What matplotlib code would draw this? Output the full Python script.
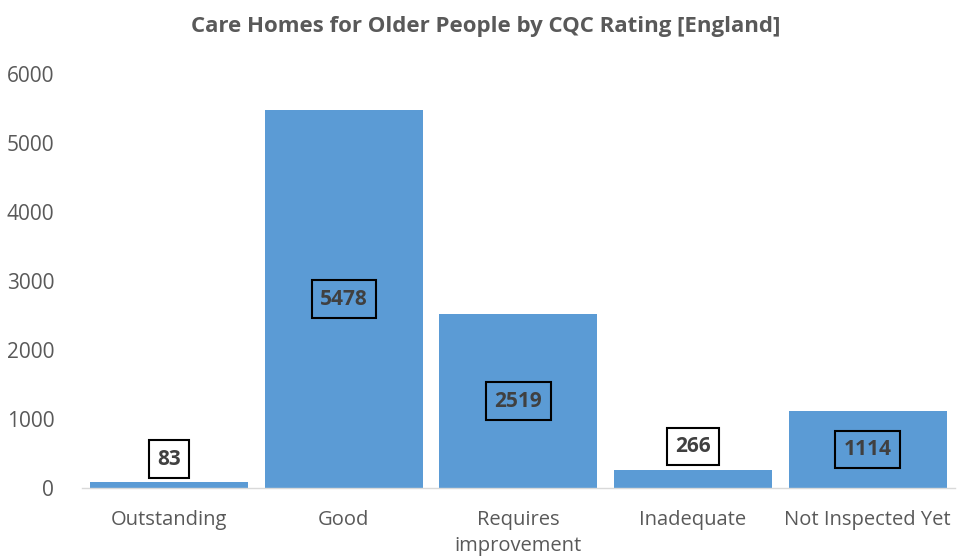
import matplotlib
matplotlib.use("Agg")
import matplotlib.pyplot as plt

categories = ["Outstanding", "Good", "Requires\nimprovement", "Inadequate", "Not Inspected Yet"]
values = [83, 5478, 2519, 266, 1114]
yticks = [0, 1000, 2000, 3000, 4000, 5000, 6000]
title = "Care Homes for Older People by CQC Rating [England]"

plt.rcParams['font.family'] = ['Open Sans', 'DejaVu Sans']

fig = plt.figure(figsize=(9.57, 5.59), dpi=100)
ax = fig.add_axes([0.0857, 0.127, 0.912, 0.7406])
x = list(range(len(categories)))
bars = ax.bar(x, values, width=0.905, color="#5B9BD5", zorder=2)
ax.set_xlim(-0.5, 4.5)
ax.set_ylim(0, 6000)
ax.set_yticks(yticks)
ax.set_yticklabels([str(t) for t in yticks], fontsize=15, color="#595959")
ax.set_xticks(x)
ax.set_xticklabels(categories, fontsize=14.5, color="#595959", linespacing=1.4)
ax.tick_params(axis='y', length=0, pad=20)
ax.tick_params(axis='x', length=0, pad=16)
for s in ["top", "right", "left"]:
    ax.spines[s].set_visible(False)
ax.spines["bottom"].set_color("#D9D9D9")
ax.spines["bottom"].set_linewidth(1)

for xi, v in zip(x, values):
    if v < 500:
        ax.annotate(str(v), (xi, v), xytext=(0, 9), textcoords="offset points",
                    ha="center", va="bottom", fontsize=15, fontweight="bold", color="#404040",
                    bbox=dict(boxstyle="square,pad=0.4", fc="white", ec="black", lw=1.5))
    else:
        ax.text(xi, v / 2, str(v), ha="center", va="center", fontsize=15,
                fontweight="bold", color="#404040",
                bbox=dict(boxstyle="square,pad=0.4", fc="none", ec="black", lw=1.5))

fig.text(0.508, 0.952, title, ha="center", va="center", fontsize=16,
         fontweight="bold", color="#595959")
fig.savefig("out.png", dpi=100)
